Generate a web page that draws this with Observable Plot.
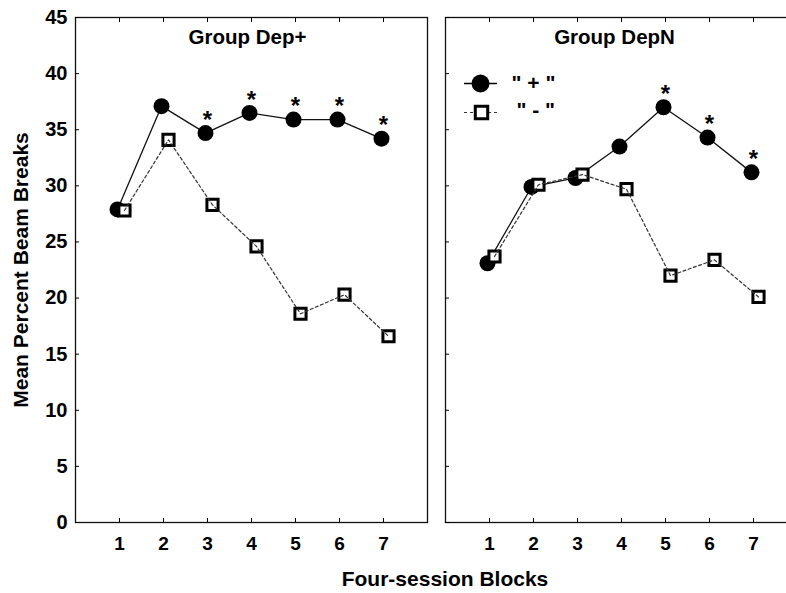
<!DOCTYPE html>
<html><head><meta charset="utf-8">
<script src="https://cdn.jsdelivr.net/npm/d3@7"></script>
<script src="https://cdn.jsdelivr.net/npm/@observablehq/plot@0.6"></script>
<style>
body{margin:0;background:#fff;}
#wrap{position:relative;width:786px;height:593px;overflow:hidden;background:#fff;font-family:"Liberation Sans",Arial,sans-serif;}
#left{position:absolute;left:0;top:0;width:430px;}
#right{position:absolute;left:430px;top:0;width:370px;}
#wrap svg{max-width:none !important;}
#xlab{position:absolute;left:0;top:568px;width:890px;text-align:center;font-weight:bold;font-size:21px;line-height:21px;color:#000;}
</style>
</head><body>
<div id="wrap"><div id="left"></div><div id="right"></div><div id="xlab">Four-session Blocks</div></div>
<script>
const blocks = [1, 2, 3, 4, 5, 6, 7];
const yTicks = [0, 5, 10, 15, 20, 25, 30, 35, 40, 45];
const depPlusPos = [27.9, 37.1, 34.7, 36.5, 35.9, 35.9, 34.2];
const depPlusNeg = [27.8, 34.1, 28.3, 24.6, 18.6, 20.3, 16.6];
const depNPos = [23.1, 29.9, 30.7, 33.5, 37.0, 34.3, 31.2];
const depNNeg = [23.7, 30.1, 31.0, 29.7, 22.0, 23.4, 20.1];
const depPlusSig = [3, 4, 5, 6, 7];
const depNSig = [5, 6, 7];
const legendLabels = ['" + "', '" - "'];

const FONT = '"Liberation Sans", Arial, sans-serif';
const hline = {draw(ctx) { ctx.moveTo(-16.5, 0); ctx.lineTo(16.5, 0); }};

function panel({title, pos, neg, sig, width, marginLeft, marginRight, showY, titleDx, legend}) {
  const posRows = blocks.map((b, i) => ({block: b, value: pos[i]}));
  const negRows = blocks.map((b, i) => ({block: b, value: neg[i]}));
  const sigRows = posRows.filter(d => sig.includes(d.block));
  const marks = [
    Plot.frame({stroke: "#111", strokeWidth: 1.3}),
    Plot.axisY({ticks: yTicks, tickSize: -4, tickPadding: 12, fontSize: 20,
      tickFormat: showY ? (d => String(d)) : (() => ""), label: null}),
    Plot.axisX({anchor: "bottom", ticks: blocks, tickSize: -4, tickPadding: 18, fontSize: 19, label: null}),
    Plot.axisX({anchor: "top", ticks: blocks, tickSize: -4, tickFormat: () => "", label: null}),
    Plot.text([title], {frameAnchor: "top", dx: titleDx, dy: 12, lineAnchor: "top", fontSize: 20.5, fontWeight: "bold"}),
    Plot.line(posRows, {x: "block", y: "value", dx: -2, stroke: "#111", strokeWidth: 1.3}),
    Plot.dot(posRows, {x: "block", y: "value", dx: -2, r: 8, fill: "black", symbol: "circle"}),
    Plot.dot(negRows, {x: "block", y: "value", dx: 5, r: 6.3, symbol: "square", fill: "white", stroke: "black", strokeWidth: 3}),
    Plot.line(negRows, {x: "block", y: "value", dx: 5, stroke: "#333", strokeWidth: 1.2, strokeDasharray: "3,2.5"}),
    Plot.text(sigRows, {x: "block", y: "value", text: () => "*", dy: -13, fontSize: 24, fontWeight: "bold"})
  ];
  if (showY) {
    marks.push(Plot.text(["Mean Percent Beam Breaks"], {frameAnchor: "left", rotate: -90, dx: -62, textAnchor: "middle", lineAnchor: "top", fontSize: 21, fontWeight: "bold"}));
  }
  if (legend) {
    marks.push(
      Plot.dot([0], {x: null, y: null, frameAnchor: "top-left", dx: 35, dy: 66, symbol: hline, stroke: "black", strokeWidth: 1.3}),
      Plot.dot([0], {x: null, y: null, frameAnchor: "top-left", dx: 35, dy: 66, symbol: "circle", r: 9, fill: "black"}),
      Plot.dot([0], {x: null, y: null, frameAnchor: "top-left", dx: 35, dy: 95, symbol: hline, stroke: "#333", strokeWidth: 1.2, strokeDasharray: "3,3"}),
      Plot.dot([0], {x: null, y: null, frameAnchor: "top-left", dx: 36, dy: 95, symbol: "square", r: 7, fill: "white", stroke: "black", strokeWidth: 3}),
      Plot.text([legendLabels[0]], {frameAnchor: "top-left", dx: 66, dy: 66, textAnchor: "start", lineAnchor: "middle", fontSize: 21, fontWeight: "bold"}),
      Plot.text([legendLabels[1]], {frameAnchor: "top-left", dx: 71, dy: 93, textAnchor: "start", lineAnchor: "middle", fontSize: 21, fontWeight: "bold"})
    );
  }
  return Plot.plot({
    width, height: 593, marginLeft, marginRight, marginTop: 17, marginBottom: 71,
    x: {domain: [0, 8]},
    y: {domain: [0, 45]},
    style: {fontFamily: FONT, fontWeight: "bold", color: "black", background: "white", overflow: "visible", maxWidth: "none"},
    marks
  });
}

document.getElementById("left").append(panel({
  title: "Group Dep+", pos: depPlusPos, neg: depPlusNeg, sig: depPlusSig,
  width: 430, marginLeft: 75, marginRight: 3, showY: true, titleDx: -4, legend: false
}));
document.getElementById("right").append(panel({
  title: "Group DepN", pos: depNPos, neg: depNNeg, sig: depNSig,
  width: 370, marginLeft: 15, marginRight: 3, showY: false, titleDx: -7, legend: true
}));
</script>
</body></html>
